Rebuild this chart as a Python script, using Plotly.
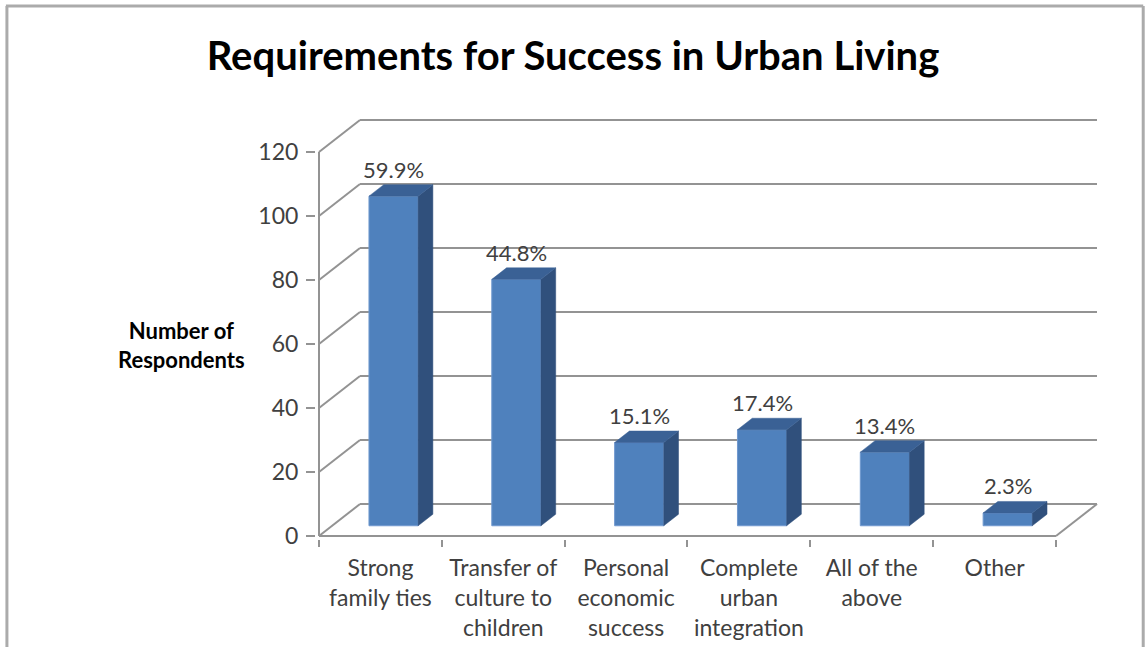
import plotly.graph_objects as go

# ---------------- data ----------------
CATEGORIES = ["Strong<br>family ties", "Transfer of<br>culture to<br>children",
              "Personal<br>economic<br>success", "Complete<br>urban<br>integration",
              "All of the<br>above", "Other"]
RESPONDENTS = [103, 77, 26, 30, 23, 4]
PERCENT_LABELS = ["59.9%", "44.8%", "15.1%", "17.4%", "13.4%", "2.3%"]
Y_TICKS = [0, 20, 40, 60, 80, 100, 120]
TITLE = "Requirements for Success in Urban Living"
Y_TITLE = "Number of<br>Respondents"

# ---------------- geometry (pixels -> axis units) ----------------
W, H = 1146, 647
CW = 122.8            # px per category
PY = 3.2              # px per value unit
X_LEFT_PX = 319       # pixel of x = -0.5 (front left corner)
Y0_PX = 536           # pixel of front zero
DX = 41 / CW          # depth offset of back wall, in category units
DY = 10.0             # depth offset of back wall, in value units
F1, F2 = 0.32, 0.68   # bar depth (front / back) as fraction of floor depth
BAR_W = 0.4
PAD = 3               # px padding so edge lines are not clipped

n = len(CATEGORIES)
ymax = Y_TICKS[-1]
x_range = [-0.5 - PAD / CW, n - 0.5 + DX + PAD / CW]
y_range = [-PAD / PY, ymax + DY + PAD / PY]
plot_w = (x_range[1] - x_range[0]) * CW
plot_h = (y_range[1] - y_range[0]) * PY
m_l = X_LEFT_PX - PAD
m_r = W - m_l - plot_w
m_b = H - (Y0_PX + PAD)
m_t = H - m_b - plot_h


def px_paper_x(px):
    return (px - m_l) / plot_w


def px_paper_y(py):
    return (H - m_b - py) / plot_h


GRID = "#939393"
FRONT = "#4F81BD"
SIDE = "#30507C"
TOP = "#3A6195"
FONT = "Lato"

fig = go.Figure()

# front faces of bars
base = F1 * DY
xs = [i + F1 * DX for i in range(n)]
fig.add_trace(go.Bar(
    x=xs, y=RESPONDENTS, base=[base] * n, width=BAR_W,
    marker=dict(color=FRONT, line=dict(color="#7099cf", width=1)),
    hoverinfo="skip", showlegend=False))

# side and top faces
ddx = (F2 - F1) * DX
ddy = (F2 - F1) * DY
sx, sy, tx, ty = [], [], [], []
for xc, v in zip(xs, RESPONDENTS):
    xl, xr = xc - BAR_W / 2, xc + BAR_W / 2
    top = base + v
    sx += [xr, xr, xr + ddx, xr + ddx, xr, None]
    sy += [base, top, top + ddy, base + ddy, base, None]
    tx += [xl, xr, xr + ddx, xl + ddx, xl, None]
    ty += [top, top, top + ddy, top + ddy, top, None]
fig.add_trace(go.Scatter(x=sx, y=sy, fill="toself", fillcolor=SIDE, mode="lines",
                         line=dict(color=SIDE, width=0.5), hoverinfo="skip", showlegend=False))
fig.add_trace(go.Scatter(x=tx, y=ty, fill="toself", fillcolor=TOP, mode="lines",
                         line=dict(color=TOP, width=0.5), hoverinfo="skip", showlegend=False))

# data labels
for xc, v, lab in zip(xs, RESPONDENTS, PERCENT_LABELS):
    fig.add_annotation(x=xc, y=base + v + ddy, text=lab, showarrow=False,
                       yanchor="bottom", xanchor="center", yshift=0,
                       font=dict(family=FONT, size=22, color="#404040"))

# walls / gridlines
shapes = []
for v in Y_TICKS:
    shapes.append(dict(type="line", xref="x", yref="y", layer="below",
                       x0=-0.5 + DX, x1=n - 0.5 + DX, y0=v + DY, y1=v + DY,
                       line=dict(color=GRID, width=2)))
    shapes.append(dict(type="line", xref="x", yref="y", layer="below",
                       x0=-0.5, x1=-0.5 + DX, y0=v, y1=v + DY,
                       line=dict(color=GRID, width=2)))
# floor front edge and right edge
shapes.append(dict(type="line", xref="x", yref="y", layer="below",
                   x0=-0.5, x1=n - 0.5, y0=0, y1=0, line=dict(color=GRID, width=2)))
shapes.append(dict(type="line", xref="x", yref="y", layer="below",
                   x0=n - 0.5, x1=n - 0.5 + DX, y0=0, y1=DY, line=dict(color=GRID, width=2)))
# vertical value axis line
shapes.append(dict(type="line", xref="x", yref="y", layer="below",
                   x0=-0.5, x1=-0.5, y0=0, y1=ymax, line=dict(color=GRID, width=2)))
# outer frame (left, top, right)
for x0, y0, x1, y1 in [(7, 6, 7, H + 5), (6, 6, 1143, 6), (1143, 6, 1143, H + 5)]:
    shapes.append(dict(type="line", xref="paper", yref="paper",
                       x0=px_paper_x(x0), x1=px_paper_x(x1),
                       y0=px_paper_y(y0), y1=px_paper_y(y1),
                       line=dict(color="#ababab", width=3)))

# y-axis title (horizontal)
fig.add_annotation(xref="paper", yref="paper", x=px_paper_x(182), y=px_paper_y(345),
                   text="<b>" + Y_TITLE + "</b>", showarrow=False,
                   xanchor="center", yanchor="middle", align="center",
                   font=dict(family=FONT, size=22, color="#000000"))

fig.update_layout(
    width=W, height=H,
    margin=dict(l=m_l, r=m_r, t=m_t, b=m_b, autoexpand=False),
    paper_bgcolor="white", plot_bgcolor="white",
    shapes=shapes,
    showlegend=False,
    title=dict(text="<b>" + TITLE + "</b>", x=0.5, xref="container", xanchor="center",
               y=1 - 56 / H, yref="container", yanchor="middle",
               font=dict(family=FONT, size=40, color="#000000")),
    xaxis=dict(range=x_range, showgrid=False, zeroline=False, showline=False,
               tickmode="array", tickvals=list(range(n)), ticktext=CATEGORIES,
               ticks="", ticklabelstandoff=13,
               tickfont=dict(family=FONT, size=23, color="#404040"),
               minor=dict(tickmode="array", tickvals=[i - 0.5 for i in range(n + 1)],
                          ticks="outside", ticklen=7, tickcolor=GRID, tickwidth=2,
                          showgrid=False),
               fixedrange=True),
    yaxis=dict(range=y_range, showgrid=False, zeroline=False, showline=False,
               tickmode="array", tickvals=Y_TICKS, ticks="outside", ticklen=9,
               tickcolor=GRID, tickwidth=2, ticklabelstandoff=3,
               tickfont=dict(family=FONT, size=23, color="#404040"),
               fixedrange=True),
)

fig.write_html("out.html", config={"displayModeBar": False},
               post_script="document.body.style.margin='0';")
